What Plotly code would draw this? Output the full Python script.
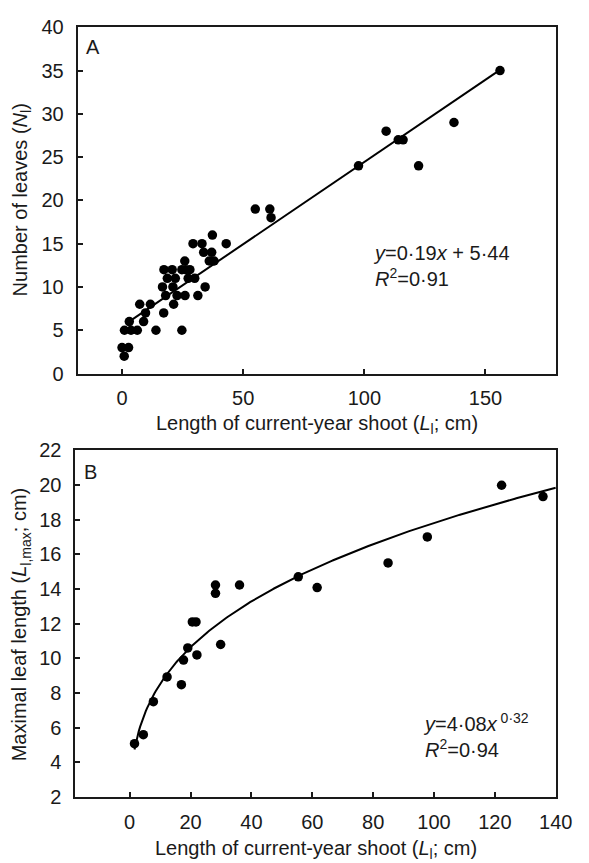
import numpy as np
import plotly.graph_objects as go

# ---- Panel A data: length of current-year shoot vs number of leaves ----
a_x = [0.9, 0, 2.7, 1, 3.7, 6.3, 3, 14, 24.7, 8.9, 7.3, 11.7, 9.7, 17.2, 21.3,
       18, 22.7, 26, 31.3, 16.7, 21, 34.3, 18.7, 22, 27.3, 30, 17.3, 20.7, 24.7,
       26.3, 28, 25.9, 36, 38, 33.7, 37, 29.3, 33, 43, 37.3, 55, 61, 61.5,
       97.6, 109, 114, 116, 122.4, 137, 156]
a_y = [2, 3, 3, 5, 5, 5, 6, 5, 5, 6, 8, 8, 7, 7, 8,
       9, 9, 9, 9, 10, 10, 10, 11, 11, 11, 11, 12, 12, 12,
       12, 12, 13, 13, 13, 14, 14, 15, 15, 15, 16, 19, 19, 18,
       24, 28, 27, 27, 24, 29, 35]
a_slope, a_intercept = 0.19, 5.44
a_fit_range = [2, 156]

# ---- Panel B data: length of current-year shoot vs maximal leaf length ----
b_x = [1.6, 4.5, 7.8, 12.3, 17.0, 17.7, 19.1, 20.6, 21.8, 22.1, 28.2, 28.2,
       29.9, 36.1, 55.4, 61.6, 84.9, 97.8, 122.2, 135.8]
b_y = [5.08, 5.6, 7.5, 8.93, 8.48, 9.9, 10.6, 12.1, 12.1, 10.2, 14.23, 13.75,
       10.8, 14.23, 14.7, 14.08, 15.5, 17.0, 19.98, 19.33]
b_coef, b_exp = 4.08, 0.32
b_fit_range = [1.6, 140]

# tick values
a_xticks = [0, 50, 100, 150]
a_yticks = [0, 5, 10, 15, 20, 25, 30, 35, 40]
b_xticks = [0, 20, 40, 60, 80, 100, 120, 140]
b_yticks = [2, 4, 6, 8, 10, 12, 14, 16, 18, 20, 22]

W, H = 589, 863
FONT = "Liberation Sans, Arial, Helvetica, sans-serif"
FS = 20
TXT = "#1a1a1a"


def px_x(p):
    return p / W


def px_y(p):
    return 1 - p / H


fig = go.Figure()

# Panel A
fig.add_trace(go.Scatter(x=a_x, y=a_y, mode="markers",
                         marker=dict(color="black", size=9.5),
                         xaxis="x", yaxis="y", showlegend=False))
fx = np.linspace(a_fit_range[0], a_fit_range[1], 2)
fig.add_trace(go.Scatter(x=fx, y=a_slope * fx + a_intercept, mode="lines",
                         line=dict(color="black", width=2),
                         xaxis="x", yaxis="y", showlegend=False))

# Panel B
fig.add_trace(go.Scatter(x=b_x, y=b_y, mode="markers",
                         marker=dict(color="black", size=9.5),
                         xaxis="x2", yaxis="y2", showlegend=False))
gx = np.linspace(b_fit_range[0], b_fit_range[1], 300)
fig.add_trace(go.Scatter(x=gx, y=b_coef * gx ** b_exp, mode="lines",
                         line=dict(color="black", width=2),
                         xaxis="x2", yaxis="y2", showlegend=False))

axis_common = dict(showline=True, linecolor="#1a1a1a", linewidth=2, mirror=True,
                   ticks="inside", ticklen=5, tickwidth=1.5, tickcolor="#1a1a1a",
                   showgrid=False, zeroline=False,
                   tickfont=dict(family=FONT, size=FS, color=TXT))

fig.update_layout(
    width=W, height=H,
    margin=dict(l=0, r=0, t=0, b=0),
    paper_bgcolor="white", plot_bgcolor="white",
    xaxis=dict(domain=[px_x(80), px_x(573)], range=[-18.3, 179.3],
               tickvals=a_xticks, anchor="y", ticklabelstandoff=5, **axis_common),
    yaxis=dict(domain=[px_y(372), px_y(16.7)], range=[0, 40],
               tickvals=a_yticks, anchor="x", ticklabelstandoff=8, **axis_common),
    xaxis2=dict(domain=[px_x(77.7), px_x(572.3)], range=[-17.8, 140],
                tickvals=b_xticks, anchor="y2", ticklabelstandoff=6, **axis_common),
    yaxis2=dict(domain=[px_y(806.7), px_y(450.7)], range=[2, 22],
                tickvals=b_yticks, anchor="x2", ticklabelstandoff=8, **axis_common),
)

tf = dict(family=FONT, size=FS, color=TXT)
ann = [
    dict(text="A", x=px_x(86), y=px_y(37), xanchor="left", yanchor="middle"),
    dict(text="B", x=px_x(84), y=px_y(473), xanchor="left", yanchor="middle"),
    dict(text="Length of current-year shoot (<i>L</i><sub>l</sub>; cm)",
         x=px_x(326), y=px_y(409), xanchor="center", yanchor="top"),
    dict(text="Length of current-year shoot (<i>L</i><sub>l</sub>; cm)",
         x=px_x(325), y=px_y(846), xanchor="center", yanchor="top"),
    dict(text="Number of leaves (<i>N</i><sub>l</sub>)", textangle=-90,
         x=px_x(22), y=px_y(194), xanchor="center", yanchor="middle"),
    dict(text="Maximal leaf length (<i>L</i><sub>l,max</sub>; cm)", textangle=-90,
         x=px_x(22), y=px_y(629), xanchor="center", yanchor="middle"),
    dict(text="<i>y</i>=0·19<i>x</i> + 5·44<br><i>R</i><sup>2</sup>=0·91",
         x=px_x(382), y=px_y(262), xanchor="left", yanchor="middle", align="left"),
    dict(text="<i>y</i>=4·08<i>x</i><sup> 0·32</sup><br><i>R</i><sup>2</sup>=0·94",
         x=px_x(434), y=px_y(743), xanchor="left", yanchor="middle", align="left"),
]
for a in ann:
    a.update(xref="paper", yref="paper", showarrow=False, font=tf)
    fig.add_annotation(**a)

fig.write_html("out.html")
